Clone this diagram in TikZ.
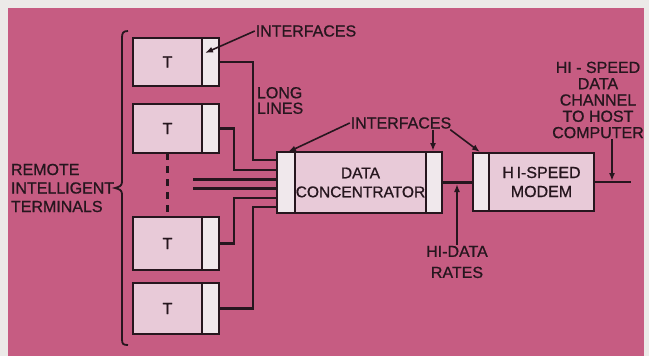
\documentclass[tikz,border=0pt]{standalone}
\usepackage{fontspec}
\setmainfont[FakeBold=0.9]{Liberation Sans}
\usetikzlibrary{arrows.meta}
\definecolor{outerbg}{RGB}{236,234,232}
\definecolor{pinkbg}{RGB}{198,92,130}
\definecolor{boxfill}{RGB}{232,202,216}
\definecolor{iffill}{RGB}{240,232,236}
\definecolor{inkc}{RGB}{38,22,30}
\begin{document}
\begin{tikzpicture}[x=1pt,y=-1pt,line width=2.2pt,
  every node/.style={inner sep=1pt,outer sep=0pt,text=inkc},
  txt/.style={font=\fontsize{16}{17}\selectfont},
  mainbox/.style={draw=inkc,fill=boxfill,line width=2.2pt,font=\fontsize{16}{17}\selectfont,align=center},
  ifbox/.style={draw=inkc,fill=iffill,line width=2.2pt},
  wire/.style={draw=inkc,line width=2.2pt},
  arr/.style={draw=inkc,line width=1.6pt,-{Latex[length=8pt,width=6pt]}}]
\fill[outerbg] (0,0) rectangle (649,356);
\fill[pinkbg] (8,8) rectangle (644,356);
\useasboundingbox (0,0) rectangle (649,356);

% terminals
\node[mainbox,minimum width=69pt,minimum height=48pt] (t1) at (167.5,62) {T};
\node[ifbox,minimum width=17pt,minimum height=48pt] (t1i) at (210.5,62) {};
\node[mainbox,minimum width=69pt,minimum height=49pt] (t2) at (167.5,128.5) {T};
\node[ifbox,minimum width=17pt,minimum height=49pt] (t2i) at (210.5,128.5) {};
\node[mainbox,minimum width=69pt,minimum height=53pt] (t3) at (167.5,243.5) {T};
\node[ifbox,minimum width=17pt,minimum height=53pt] (t3i) at (210.5,243.5) {};
\node[mainbox,minimum width=69pt,minimum height=51pt] (t4) at (167.5,308.5) {T};
\node[ifbox,minimum width=17pt,minimum height=51pt] (t4i) at (210.5,308.5) {};

% concentrator
\node[ifbox,minimum width=18pt,minimum height=61pt] (cli) at (286,182.5) {};
\node[mainbox,minimum width=131pt,minimum height=61pt,font=\fontsize{15.5}{19}\selectfont] (cm) at (360.5,182.5) {DATA\\CONCENTRATOR};
\node[ifbox,minimum width=16pt,minimum height=61pt] (cri) at (434,182.5) {};

% modem
\node[ifbox,minimum width=16pt,minimum height=58pt] (mi) at (481,182) {};
\node[mainbox,minimum width=105pt,minimum height=58pt,font=\fontsize{16}{19}\selectfont] (mm) at (541.5,182) {H\,I-SPEED\\MODEM};

% dashed link between terminals
\draw[wire,dash pattern=on 7pt off 6pt] (t2.south) -- (t3.north);

% long lines
\draw[wire] (t1i.east) -| (253,160) -- (cli.west |- 0,160);
\draw[wire] (t2i.east) -| (234,170) -- (cli.west |- 0,170);
\coordinate (o1) at (193,179.5);
\coordinate (o2) at (193,188.5);
\draw[wire] (o1) -- (cli.west |- o1);
\draw[wire] (o2) -- (cli.west |- o2);
\draw[wire] (t3i.east) -| (234,198) -- (cli.west |- 0,198);
\draw[wire] (t4i.east) -| (253,207) -- (cli.west |- 0,207);

% concentrator to modem, output
\draw[wire] (cri.east) -- (mi.west |- cri.east);
\coordinate (out) at (631,182);
\draw[wire] (mm.east) -- (out);

% brace
\draw[inkc,line width=1.8pt] (128,31) .. controls (123,31) and (122,33) .. (122,38)
  -- (122,182) .. controls (122,186) and (119,187) .. (115,188)
  .. controls (119,189) and (122,190) .. (122,194)
  -- (122,339) .. controls (122,344) and (123,345) .. (128,345);

% labels
\node[txt,anchor=west,align=left,font=\fontsize{16}{18.5}\selectfont] (rem) at (10,188) {REMOTE\\INTELLIGENT\\TERMINALS};
\node[txt] (ifA) at (306,31) {INTERFACES};
\coordinate (aT1) at (205,53);
\draw[arr] (ifA.west) -- (aT1);
\node[txt,anchor=west,align=left,font=\fontsize{16}{15.5}\selectfont] (ll) at (256,100.5) {LONG\\LINES};

\node[txt] (ifB) at (401,123) {INTERFACES};
\coordinate (aCL) at (288,152);
\coordinate (aCR) at (433,151);
\coordinate (aM) at (480,152);
\draw[arr] (ifB.west) -- (aCL);
\draw[arr] (ifB.south -| aCR) -- (aCR);
\draw[arr] (ifB.south east) ++(-2,0) -- (aM);

\node[txt,align=center,font=\fontsize{16}{21}\selectfont] (hdr) at (457,262) {HI-DATA\\RATES};
\coordinate (aH) at (457,184);
\draw[arr] (hdr.north) -- (aH);

\node[txt,align=center,font=\fontsize{16}{16.3}\selectfont] (chan) at (598,100) {HI - SPEED\\DATA\\CHANNEL\\TO HOST\\COMPUTER};
\coordinate (aO) at (612,181);
\draw[arr] (chan.south -| aO) -- (aO);
\end{tikzpicture}
\end{document}
